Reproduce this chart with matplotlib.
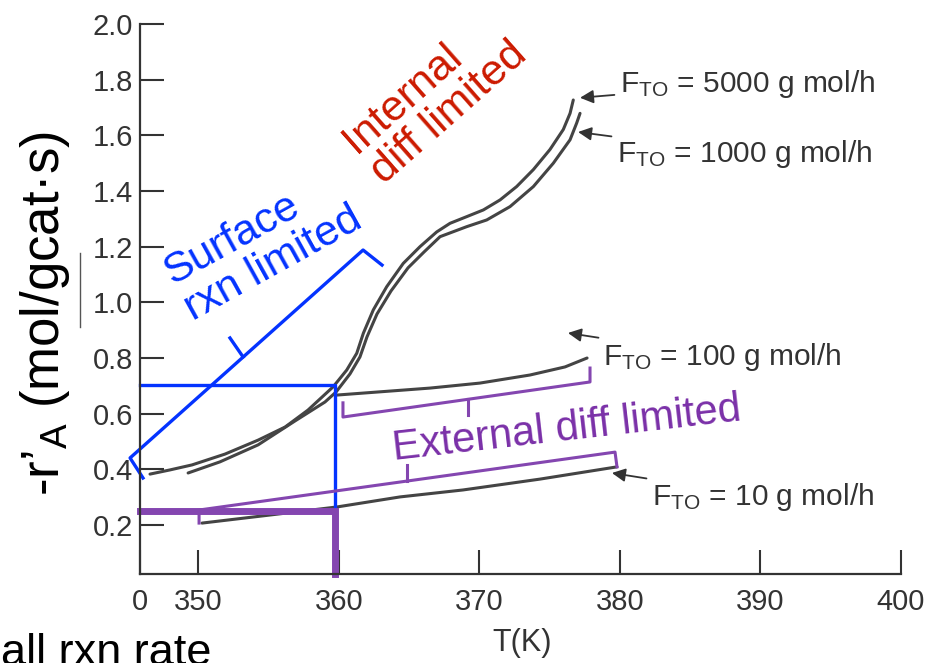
import matplotlib.pyplot as plt
from matplotlib.lines import Line2D

plt.rcParams['font.family'] = ['Liberation Sans', 'DejaVu Sans']
plt.rcParams['mathtext.fontset'] = 'custom'
plt.rcParams['mathtext.rm'] = 'Liberation Sans'
plt.rcParams['mathtext.it'] = 'Liberation Sans:italic'
plt.rcParams['mathtext.bf'] = 'Liberation Sans:bold'

# rate curves, T (K) vs -r'A
t_5000 = [346.56, 347.98, 349.55, 351.90, 354.25, 356.17, 357.80, 359.60, 360.56, 361.27,
          361.74, 362.45, 363.40, 364.58, 365.77, 366.96, 367.91, 369.10, 370.28, 371.47,
          372.65, 373.84, 375.02, 375.97, 376.45, 376.68]
r_5000 = [0.383, 0.398, 0.416, 0.455, 0.505, 0.552, 0.613, 0.697, 0.757, 0.817,
          0.889, 0.973, 1.056, 1.140, 1.200, 1.253, 1.284, 1.308, 1.332, 1.368,
          1.416, 1.477, 1.549, 1.621, 1.679, 1.727]

t_1000 = [349.27, 351.54, 354.25, 356.88, 359.01, 359.80, 360.79, 361.50, 362.00, 362.71,
          363.71, 364.92, 366.06, 367.20, 369.10, 370.52, 372.18, 373.84, 375.26, 376.45,
          376.92, 377.16]
r_1000 = [0.387, 0.427, 0.488, 0.574, 0.642, 0.678, 0.743, 0.804, 0.876, 0.958,
          1.041, 1.124, 1.181, 1.236, 1.272, 1.296, 1.344, 1.416, 1.500, 1.584,
          1.644, 1.679]

t_100 = [359.87, 366.48, 370.04, 373.60, 376.09, 377.66]
r_100 = [0.667, 0.692, 0.710, 0.739, 0.768, 0.800]

t_10 = [350.26, 355.10, 359.87, 364.35, 368.83, 374.31, 379.79]
r_10 = [0.207, 0.236, 0.265, 0.301, 0.326, 0.365, 0.409]

curves_t = [t_5000, t_1000, t_100, t_10]
curves_r = [r_5000, r_1000, r_100, r_10]

flow_labels = [r'F$_{\mathrm{TO}}$ = 5000 g mol/h', r'F$_{\mathrm{TO}}$ = 1000 g mol/h',
               r'F$_{\mathrm{TO}}$ = 100 g mol/h', r'F$_{\mathrm{TO}}$ = 10 g mol/h']
label_t = [380.0, 379.79, 378.79, 382.28]
label_r = [1.785, 1.533, 0.804, 0.301]
arrow_t = [377.16, 377.02, 376.30, 379.43]
arrow_r = [1.735, 1.612, 0.890, 0.387]

x_ticks = [345.85, 350, 360, 370, 380, 390, 400]
x_labels = ['0', '350', '360', '370', '380', '390', '400']
y_ticks = [0.2, 0.4, 0.6, 0.8, 1.0, 1.2, 1.4, 1.6, 1.8, 2.0]
y_labels = ['0.2', '0.4', '0.6', '0.8', '1.0', '1.2', '1.4', '1.6', '1.8', '2.0']

# annotation shapes (data coords)
blue_bracket_t = [346.06, 345.14, 361.72, 363.07]
blue_bracket_r = [0.369, 0.441, 1.188, 1.134]
blue_nib_t = [353.18, 352.25]
blue_nib_r = [0.804, 0.872]
blue_box_t = [345.85, 359.72, 359.72]
blue_box_r = [0.704, 0.704, 0.265]

purple_bar_t = [345.85, 359.72, 359.72]
purple_bar_r = [0.252, 0.252, 0.024]

ext_low_t = [350.05, 350.05, 379.65, 379.79]
ext_low_r = [0.207, 0.254, 0.462, 0.409]
ext_low_nib_t = [364.85, 364.85]
ext_low_nib_r = [0.358, 0.416]
ext_up_t = [360.29, 360.29, 377.87, 377.87]
ext_up_r = [0.639, 0.588, 0.714, 0.764]
ext_up_nib_t = [369.19, 369.19]
ext_up_nib_r = [0.653, 0.596]

blue = '#0433ff'
purple = '#8446b0'
gray = '#333333'

fig = plt.figure(figsize=(9.33, 6.63), dpi=100)
ax = fig.add_axes([0.1501, 0.1342, 0.8156, 0.8296])

for t, r in zip(curves_t, curves_r):
    ax.plot(t, r, color='#444444', lw=2.2, solid_capstyle='round',
            solid_joinstyle='round')

for txt, tx, ty, hx, hy in zip(flow_labels, label_t, label_r, arrow_t, arrow_r):
    ax.annotate(txt, xy=(hx, hy), xytext=(tx, ty), ha='left', va='center',
                fontsize=21.5, color=gray, annotation_clip=False,
                arrowprops=dict(arrowstyle='-|>', color=gray, lw=1.3,
                                mutation_scale=20, shrinkA=2, shrinkB=0))

# blue: surface reaction limited
ax.plot(blue_bracket_t, blue_bracket_r, color=blue, lw=2.4, clip_on=False)
ax.plot(blue_nib_t, blue_nib_r, color=blue, lw=2.4, clip_on=False)
ax.plot(blue_box_t, blue_box_r, color=blue, lw=2.4, clip_on=False)

# purple: external diffusion limited
ax.plot(purple_bar_t, purple_bar_r, color=purple, lw=5, clip_on=False,
        solid_joinstyle='miter')
ax.plot(ext_low_t, ext_low_r, color=purple, lw=2.2)
ax.plot(ext_low_nib_t, ext_low_nib_r, color=purple, lw=2.2)
ax.plot(ext_up_t, ext_up_r, color=purple, lw=2.2)
ax.plot(ext_up_nib_t, ext_up_nib_r, color=purple, lw=2.2)

ax.text(354.59, 1.203, 'Surface\nrxn limited', color=blue, fontsize=31,
        rotation=29, rotation_mode='anchor', ha='center', va='center',
        multialignment='left', linespacing=1.05)
ax.text(366.84, 1.736, 'Internal\ndiff limited', color='#cc1a00', fontsize=31,
        rotation=41.4, rotation_mode='anchor', ha='center', va='center',
        multialignment='left', linespacing=1.05)
ax.text(376.34, 0.506, 'External diff limited', color='#7a30a8', fontsize=30,
        rotation=6.5, rotation_mode='anchor', ha='center', va='baseline')

ax.set_xlim(345.85, 400)
ax.set_ylim(0.024, 2.0)
ax.set_xticks(x_ticks)
ax.set_xticklabels(x_labels)
ax.set_yticks(y_ticks)
ax.set_yticklabels(y_labels)
ax.tick_params(axis='both', direction='in', length=17, width=1.5, color=gray,
               labelcolor=gray, labelsize=21)
ax.tick_params(axis='x', pad=10)
ax.tick_params(axis='y', pad=5)
for side in ['top', 'right']:
    ax.spines[side].set_visible(False)
for side in ['left', 'bottom']:
    ax.spines[side].set_color(gray)
    ax.spines[side].set_linewidth(1.6)

fig.text(522 / 933, 1 - 643 / 663, 'T(K)', fontsize=22, color=gray,
         ha='center', va='center')
fig.text(45 / 933, 1 - 313 / 663, r'-r’$_{\mathrm{A}}$ (mol/gcat·s)', fontsize=38,
         color='black', rotation=90, ha='center', va='center')
fig.add_artist(Line2D([80 / 933, 80 / 933], [1 - 253 / 663, 1 - 327 / 663],
                      color='#555555', lw=1))
# caption cropped at the bottom-left edge, as in the source image
fig.text(1 / 933, 1 - 665 / 663, 'all rxn rate', fontsize=32.5, color='black',
         ha='left', va='baseline')

fig.savefig('out.png', dpi=100, facecolor='white')
